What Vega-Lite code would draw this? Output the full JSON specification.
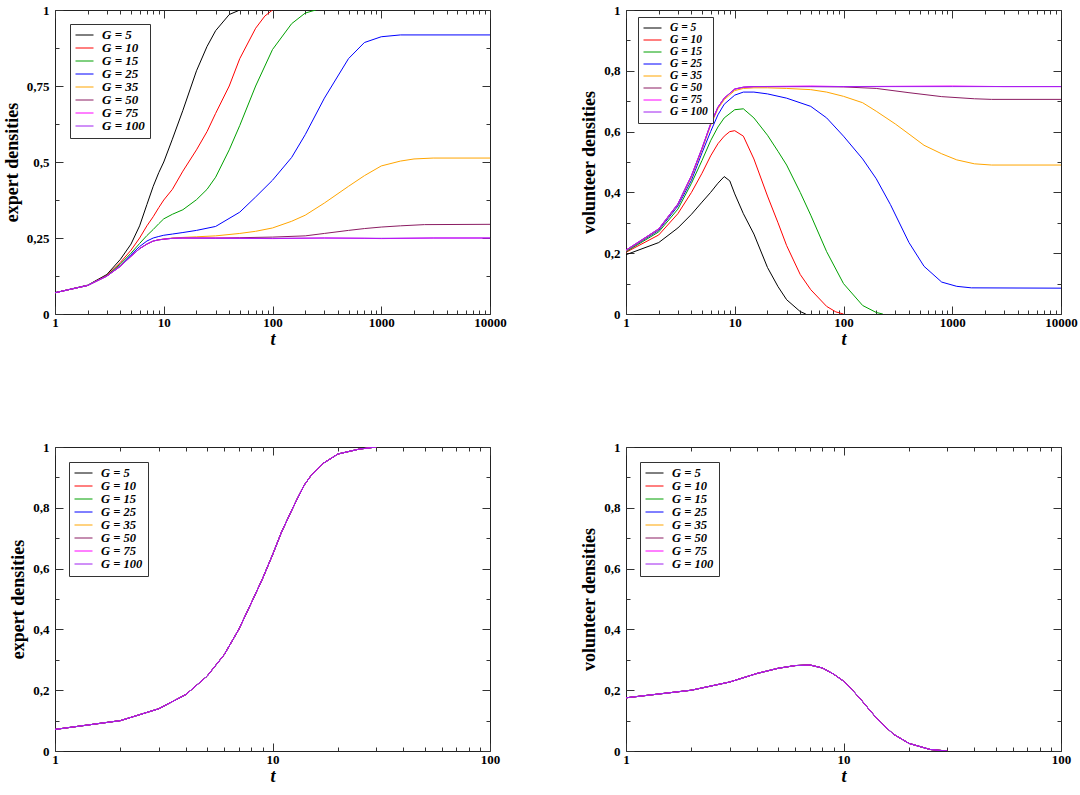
{
  "$schema": "https://vega.github.io/schema/vega-lite/v6.json",
  "background": "white",
  "padding": {"left": 2, "top": 3, "right": 5, "bottom": 5},
  "config": {
    "view": {"stroke": "#222", "strokeWidth": 1},
    "font": "Liberation Serif",
    "axis": {
      "grid": false, "domain": false,
      "labelFont": "Liberation Serif", "labelFontSize": 13, "labelFontWeight": "bold", "labelColor": "black",
      "tickColor": "#333", "tickWidth": 1,
      "titleFont": "Liberation Serif", "titleFontSize": 18, "titleFontWeight": "bold", "titleColor": "black",
      "labelFlush": false, "labelOverlap": false
    },
    "axisX": {"labelPadding": 10.5, "titlePadding": -3, "titleFontStyle": "italic"},
    "axisY": {"labelPadding": 14, "titlePadding": 5},
    "legend": {
      "orient": "none", "padding": 5,
      "strokeColor": "#333", "fillColor": "white",
      "labelFont": "Liberation Serif", "labelFontSize": 12.5, "labelFontStyle": "italic", "labelFontWeight": "bold", "labelColor": "black",
      "symbolType": "stroke", "symbolSize": 324, "labelOffset": 8, "rowPadding": 0, "clipHeight": 12
    }
  },
  "resolve": {"scale": {"color": "independent", "strokeWidth": "independent", "opacity": "independent"}},
  "datasets": {
    "tl": [
      {"G":"G = 5","t":1,"v":0.07},{"G":"G = 5","t":2,"v":0.095},{"G":"G = 5","t":3,"v":0.13},{"G":"G = 5","t":4,"v":0.18},{"G":"G = 5","t":5,"v":0.23},{"G":"G = 5","t":6,"v":0.29},{"G":"G = 5","t":7,"v":0.36},{"G":"G = 5","t":8,"v":0.42},{"G":"G = 5","t":9,"v":0.465},{"G":"G = 5","t":10,"v":0.5},{"G":"G = 5","t":12,"v":0.575},{"G":"G = 5","t":15,"v":0.67},{"G":"G = 5","t":20,"v":0.8},{"G":"G = 5","t":25,"v":0.88},{"G":"G = 5","t":30,"v":0.932},{"G":"G = 5","t":40,"v":0.985},{"G":"G = 5","t":50,"v":1},
      {"G":"G = 10","t":1,"v":0.07},{"G":"G = 10","t":2,"v":0.094},{"G":"G = 10","t":3,"v":0.127},{"G":"G = 10","t":4,"v":0.17},{"G":"G = 10","t":5,"v":0.21},{"G":"G = 10","t":6,"v":0.25},{"G":"G = 10","t":7,"v":0.29},{"G":"G = 10","t":8,"v":0.32},{"G":"G = 10","t":9,"v":0.35},{"G":"G = 10","t":10,"v":0.375},{"G":"G = 10","t":12,"v":0.41},{"G":"G = 10","t":15,"v":0.47},{"G":"G = 10","t":20,"v":0.54},{"G":"G = 10","t":25,"v":0.6},{"G":"G = 10","t":30,"v":0.66},{"G":"G = 10","t":40,"v":0.75},{"G":"G = 10","t":50,"v":0.84},{"G":"G = 10","t":70,"v":0.94},{"G":"G = 10","t":85,"v":0.98},{"G":"G = 10","t":100,"v":1},
      {"G":"G = 15","t":1,"v":0.07},{"G":"G = 15","t":2,"v":0.094},{"G":"G = 15","t":3,"v":0.126},{"G":"G = 15","t":4,"v":0.165},{"G":"G = 15","t":5,"v":0.2},{"G":"G = 15","t":6,"v":0.232},{"G":"G = 15","t":7,"v":0.258},{"G":"G = 15","t":8,"v":0.278},{"G":"G = 15","t":9,"v":0.297},{"G":"G = 15","t":10,"v":0.313},{"G":"G = 15","t":12,"v":0.328},{"G":"G = 15","t":15,"v":0.343},{"G":"G = 15","t":20,"v":0.376},{"G":"G = 15","t":25,"v":0.41},{"G":"G = 15","t":30,"v":0.45},{"G":"G = 15","t":40,"v":0.54},{"G":"G = 15","t":50,"v":0.62},{"G":"G = 15","t":70,"v":0.75},{"G":"G = 15","t":100,"v":0.87},{"G":"G = 15","t":150,"v":0.955},{"G":"G = 15","t":200,"v":0.99},{"G":"G = 15","t":250,"v":1},
      {"G":"G = 25","t":1,"v":0.07},{"G":"G = 25","t":2,"v":0.094},{"G":"G = 25","t":3,"v":0.125},{"G":"G = 25","t":4,"v":0.16},{"G":"G = 25","t":5,"v":0.195},{"G":"G = 25","t":6,"v":0.222},{"G":"G = 25","t":7,"v":0.24},{"G":"G = 25","t":8,"v":0.25},{"G":"G = 25","t":9,"v":0.255},{"G":"G = 25","t":10,"v":0.259},{"G":"G = 25","t":12,"v":0.263},{"G":"G = 25","t":15,"v":0.268},{"G":"G = 25","t":20,"v":0.275},{"G":"G = 25","t":30,"v":0.288},{"G":"G = 25","t":50,"v":0.335},{"G":"G = 25","t":70,"v":0.385},{"G":"G = 25","t":100,"v":0.44},{"G":"G = 25","t":150,"v":0.515},{"G":"G = 25","t":200,"v":0.59},{"G":"G = 25","t":300,"v":0.71},{"G":"G = 25","t":500,"v":0.84},{"G":"G = 25","t":700,"v":0.893},{"G":"G = 25","t":1000,"v":0.912},{"G":"G = 25","t":1500,"v":0.918},{"G":"G = 25","t":10000,"v":0.918},
      {"G":"G = 35","t":1,"v":0.07},{"G":"G = 35","t":2,"v":0.094},{"G":"G = 35","t":3,"v":0.125},{"G":"G = 35","t":4,"v":0.158},{"G":"G = 35","t":5,"v":0.19},{"G":"G = 35","t":6,"v":0.215},{"G":"G = 35","t":7,"v":0.23},{"G":"G = 35","t":8,"v":0.24},{"G":"G = 35","t":9,"v":0.244},{"G":"G = 35","t":10,"v":0.247},{"G":"G = 35","t":12,"v":0.25},{"G":"G = 35","t":15,"v":0.252},{"G":"G = 35","t":20,"v":0.254},{"G":"G = 35","t":30,"v":0.257},{"G":"G = 35","t":50,"v":0.265},{"G":"G = 35","t":70,"v":0.272},{"G":"G = 35","t":100,"v":0.283},{"G":"G = 35","t":150,"v":0.305},{"G":"G = 35","t":200,"v":0.325},{"G":"G = 35","t":300,"v":0.365},{"G":"G = 35","t":500,"v":0.42},{"G":"G = 35","t":700,"v":0.455},{"G":"G = 35","t":1000,"v":0.487},{"G":"G = 35","t":1500,"v":0.503},{"G":"G = 35","t":2000,"v":0.51},{"G":"G = 35","t":3000,"v":0.513},{"G":"G = 35","t":10000,"v":0.513},
      {"G":"G = 50","t":1,"v":0.07},{"G":"G = 50","t":2,"v":0.094},{"G":"G = 50","t":3,"v":0.125},{"G":"G = 50","t":4,"v":0.157},{"G":"G = 50","t":5,"v":0.19},{"G":"G = 50","t":6,"v":0.215},{"G":"G = 50","t":7,"v":0.23},{"G":"G = 50","t":8,"v":0.24},{"G":"G = 50","t":9,"v":0.244},{"G":"G = 50","t":10,"v":0.246},{"G":"G = 50","t":12,"v":0.249},{"G":"G = 50","t":15,"v":0.25},{"G":"G = 50","t":30,"v":0.25},{"G":"G = 50","t":50,"v":0.251},{"G":"G = 50","t":100,"v":0.253},{"G":"G = 50","t":200,"v":0.257},{"G":"G = 50","t":300,"v":0.265},{"G":"G = 50","t":500,"v":0.275},{"G":"G = 50","t":700,"v":0.281},{"G":"G = 50","t":1000,"v":0.286},{"G":"G = 50","t":1500,"v":0.29},{"G":"G = 50","t":2500,"v":0.294},{"G":"G = 50","t":10000,"v":0.295},
      {"G":"G = 75","t":1,"v":0.07},{"G":"G = 75","t":2,"v":0.094},{"G":"G = 75","t":3,"v":0.125},{"G":"G = 75","t":4,"v":0.157},{"G":"G = 75","t":5,"v":0.19},{"G":"G = 75","t":6,"v":0.215},{"G":"G = 75","t":7,"v":0.23},{"G":"G = 75","t":8,"v":0.24},{"G":"G = 75","t":9,"v":0.244},{"G":"G = 75","t":10,"v":0.246},{"G":"G = 75","t":12,"v":0.249},{"G":"G = 75","t":15,"v":0.25},{"G":"G = 75","t":30,"v":0.25},{"G":"G = 75","t":50,"v":0.249},{"G":"G = 75","t":100,"v":0.248},{"G":"G = 75","t":300,"v":0.25},{"G":"G = 75","t":700,"v":0.249},{"G":"G = 75","t":1000,"v":0.248},{"G":"G = 75","t":3000,"v":0.25},{"G":"G = 75","t":10000,"v":0.25},
      {"G":"G = 100","t":1,"v":0.07},{"G":"G = 100","t":2,"v":0.094},{"G":"G = 100","t":3,"v":0.125},{"G":"G = 100","t":4,"v":0.157},{"G":"G = 100","t":5,"v":0.19},{"G":"G = 100","t":6,"v":0.215},{"G":"G = 100","t":7,"v":0.23},{"G":"G = 100","t":8,"v":0.24},{"G":"G = 100","t":9,"v":0.244},{"G":"G = 100","t":10,"v":0.246},{"G":"G = 100","t":12,"v":0.249},{"G":"G = 100","t":15,"v":0.25},{"G":"G = 100","t":30,"v":0.249},{"G":"G = 100","t":100,"v":0.249},{"G":"G = 100","t":300,"v":0.25},{"G":"G = 100","t":1000,"v":0.249},{"G":"G = 100","t":3000,"v":0.25},{"G":"G = 100","t":10000,"v":0.25}
    ],
    "tr": [
      {"G":"G = 5","t":1,"v":0.195},{"G":"G = 5","t":2,"v":0.235},{"G":"G = 5","t":3,"v":0.283},{"G":"G = 5","t":4,"v":0.328},{"G":"G = 5","t":5,"v":0.368},{"G":"G = 5","t":6,"v":0.4},{"G":"G = 5","t":7,"v":0.43},{"G":"G = 5","t":8,"v":0.452},{"G":"G = 5","t":9,"v":0.438},{"G":"G = 5","t":10,"v":0.395},{"G":"G = 5","t":12,"v":0.33},{"G":"G = 5","t":15,"v":0.263},{"G":"G = 5","t":20,"v":0.153},{"G":"G = 5","t":25,"v":0.09},{"G":"G = 5","t":30,"v":0.047},{"G":"G = 5","t":40,"v":0.008},{"G":"G = 5","t":45,"v":0},
      {"G":"G = 10","t":1,"v":0.203},{"G":"G = 10","t":2,"v":0.26},{"G":"G = 10","t":3,"v":0.33},{"G":"G = 10","t":4,"v":0.4},{"G":"G = 10","t":5,"v":0.463},{"G":"G = 10","t":6,"v":0.52},{"G":"G = 10","t":7,"v":0.56},{"G":"G = 10","t":8,"v":0.585},{"G":"G = 10","t":9,"v":0.6},{"G":"G = 10","t":10,"v":0.603},{"G":"G = 10","t":12,"v":0.585},{"G":"G = 10","t":15,"v":0.51},{"G":"G = 10","t":20,"v":0.388},{"G":"G = 10","t":25,"v":0.3},{"G":"G = 10","t":30,"v":0.225},{"G":"G = 10","t":40,"v":0.13},{"G":"G = 10","t":50,"v":0.08},{"G":"G = 10","t":70,"v":0.025},{"G":"G = 10","t":85,"v":0.007},{"G":"G = 10","t":100,"v":0},
      {"G":"G = 15","t":1,"v":0.205},{"G":"G = 15","t":2,"v":0.27},{"G":"G = 15","t":3,"v":0.345},{"G":"G = 15","t":4,"v":0.43},{"G":"G = 15","t":5,"v":0.505},{"G":"G = 15","t":6,"v":0.57},{"G":"G = 15","t":7,"v":0.615},{"G":"G = 15","t":8,"v":0.645},{"G":"G = 15","t":10,"v":0.672},{"G":"G = 15","t":12,"v":0.675},{"G":"G = 15","t":15,"v":0.645},{"G":"G = 15","t":20,"v":0.588},{"G":"G = 15","t":25,"v":0.535},{"G":"G = 15","t":30,"v":0.49},{"G":"G = 15","t":40,"v":0.4},{"G":"G = 15","t":50,"v":0.325},{"G":"G = 15","t":70,"v":0.205},{"G":"G = 15","t":100,"v":0.1},{"G":"G = 15","t":150,"v":0.028},{"G":"G = 15","t":200,"v":0.005},{"G":"G = 15","t":230,"v":0},
      {"G":"G = 25","t":1,"v":0.207},{"G":"G = 25","t":2,"v":0.275},{"G":"G = 25","t":3,"v":0.355},{"G":"G = 25","t":4,"v":0.44},{"G":"G = 25","t":5,"v":0.53},{"G":"G = 25","t":6,"v":0.6},{"G":"G = 25","t":7,"v":0.655},{"G":"G = 25","t":8,"v":0.69},{"G":"G = 25","t":10,"v":0.72},{"G":"G = 25","t":12,"v":0.73},{"G":"G = 25","t":15,"v":0.73},{"G":"G = 25","t":20,"v":0.724},{"G":"G = 25","t":30,"v":0.71},{"G":"G = 25","t":50,"v":0.683},{"G":"G = 25","t":70,"v":0.645},{"G":"G = 25","t":100,"v":0.585},{"G":"G = 25","t":150,"v":0.51},{"G":"G = 25","t":200,"v":0.445},{"G":"G = 25","t":270,"v":0.36},{"G":"G = 25","t":400,"v":0.235},{"G":"G = 25","t":550,"v":0.157},{"G":"G = 25","t":800,"v":0.105},{"G":"G = 25","t":1100,"v":0.091},{"G":"G = 25","t":1500,"v":0.086},{"G":"G = 25","t":10000,"v":0.085},
      {"G":"G = 35","t":1,"v":0.208},{"G":"G = 35","t":2,"v":0.278},{"G":"G = 35","t":3,"v":0.36},{"G":"G = 35","t":4,"v":0.45},{"G":"G = 35","t":5,"v":0.54},{"G":"G = 35","t":6,"v":0.62},{"G":"G = 35","t":7,"v":0.675},{"G":"G = 35","t":8,"v":0.705},{"G":"G = 35","t":10,"v":0.735},{"G":"G = 35","t":12,"v":0.742},{"G":"G = 35","t":15,"v":0.744},{"G":"G = 35","t":20,"v":0.744},{"G":"G = 35","t":30,"v":0.742},{"G":"G = 35","t":50,"v":0.738},{"G":"G = 35","t":70,"v":0.73},{"G":"G = 35","t":100,"v":0.716},{"G":"G = 35","t":150,"v":0.695},{"G":"G = 35","t":200,"v":0.667},{"G":"G = 35","t":300,"v":0.625},{"G":"G = 35","t":400,"v":0.592},{"G":"G = 35","t":550,"v":0.555},{"G":"G = 35","t":800,"v":0.527},{"G":"G = 35","t":1100,"v":0.507},{"G":"G = 35","t":1600,"v":0.494},{"G":"G = 35","t":2300,"v":0.49},{"G":"G = 35","t":10000,"v":0.49},
      {"G":"G = 50","t":1,"v":0.21},{"G":"G = 50","t":2,"v":0.28},{"G":"G = 50","t":3,"v":0.362},{"G":"G = 50","t":4,"v":0.455},{"G":"G = 50","t":5,"v":0.545},{"G":"G = 50","t":6,"v":0.625},{"G":"G = 50","t":7,"v":0.68},{"G":"G = 50","t":8,"v":0.71},{"G":"G = 50","t":10,"v":0.74},{"G":"G = 50","t":12,"v":0.746},{"G":"G = 50","t":15,"v":0.748},{"G":"G = 50","t":30,"v":0.748},{"G":"G = 50","t":50,"v":0.748},{"G":"G = 50","t":100,"v":0.747},{"G":"G = 50","t":200,"v":0.742},{"G":"G = 50","t":400,"v":0.728},{"G":"G = 50","t":800,"v":0.715},{"G":"G = 50","t":1600,"v":0.708},{"G":"G = 50","t":2300,"v":0.706},{"G":"G = 50","t":10000,"v":0.706},
      {"G":"G = 75","t":1,"v":0.21},{"G":"G = 75","t":2,"v":0.28},{"G":"G = 75","t":3,"v":0.362},{"G":"G = 75","t":4,"v":0.455},{"G":"G = 75","t":5,"v":0.545},{"G":"G = 75","t":6,"v":0.625},{"G":"G = 75","t":7,"v":0.68},{"G":"G = 75","t":8,"v":0.71},{"G":"G = 75","t":10,"v":0.74},{"G":"G = 75","t":12,"v":0.746},{"G":"G = 75","t":15,"v":0.748},{"G":"G = 75","t":50,"v":0.75},{"G":"G = 75","t":100,"v":0.748},{"G":"G = 75","t":300,"v":0.749},{"G":"G = 75","t":1000,"v":0.75},{"G":"G = 75","t":3000,"v":0.748},{"G":"G = 75","t":10000,"v":0.748},
      {"G":"G = 100","t":1,"v":0.21},{"G":"G = 100","t":2,"v":0.28},{"G":"G = 100","t":3,"v":0.362},{"G":"G = 100","t":4,"v":0.455},{"G":"G = 100","t":5,"v":0.545},{"G":"G = 100","t":6,"v":0.625},{"G":"G = 100","t":7,"v":0.68},{"G":"G = 100","t":8,"v":0.71},{"G":"G = 100","t":10,"v":0.74},{"G":"G = 100","t":12,"v":0.746},{"G":"G = 100","t":15,"v":0.748},{"G":"G = 100","t":100,"v":0.748},{"G":"G = 100","t":1000,"v":0.748},{"G":"G = 100","t":10000,"v":0.748}
    ],
    "bl": [
      {"G":"G = 5","t":1,"v":0.071},{"G":"G = 5","t":2,"v":0.1},{"G":"G = 5","t":3,"v":0.139},{"G":"G = 5","t":4,"v":0.186},{"G":"G = 5","t":5,"v":0.246},{"G":"G = 5","t":6,"v":0.317},{"G":"G = 5","t":7,"v":0.4},{"G":"G = 5","t":8,"v":0.488},{"G":"G = 5","t":9,"v":0.567},{"G":"G = 5","t":10,"v":0.645},{"G":"G = 5","t":11,"v":0.72},{"G":"G = 5","t":12,"v":0.778},{"G":"G = 5","t":13,"v":0.83},{"G":"G = 5","t":14,"v":0.875},{"G":"G = 5","t":15,"v":0.905},{"G":"G = 5","t":17,"v":0.945},{"G":"G = 5","t":20,"v":0.977},{"G":"G = 5","t":25,"v":0.993},{"G":"G = 5","t":30,"v":1},
      {"G":"G = 10","t":1,"v":0.071},{"G":"G = 10","t":2,"v":0.1},{"G":"G = 10","t":3,"v":0.139},{"G":"G = 10","t":4,"v":0.186},{"G":"G = 10","t":5,"v":0.246},{"G":"G = 10","t":6,"v":0.317},{"G":"G = 10","t":7,"v":0.4},{"G":"G = 10","t":8,"v":0.488},{"G":"G = 10","t":9,"v":0.567},{"G":"G = 10","t":10,"v":0.645},{"G":"G = 10","t":11,"v":0.72},{"G":"G = 10","t":12,"v":0.778},{"G":"G = 10","t":13,"v":0.83},{"G":"G = 10","t":14,"v":0.875},{"G":"G = 10","t":15,"v":0.905},{"G":"G = 10","t":17,"v":0.945},{"G":"G = 10","t":20,"v":0.977},{"G":"G = 10","t":25,"v":0.993},{"G":"G = 10","t":30,"v":1},
      {"G":"G = 15","t":1,"v":0.071},{"G":"G = 15","t":2,"v":0.1},{"G":"G = 15","t":3,"v":0.139},{"G":"G = 15","t":4,"v":0.186},{"G":"G = 15","t":5,"v":0.246},{"G":"G = 15","t":6,"v":0.317},{"G":"G = 15","t":7,"v":0.4},{"G":"G = 15","t":8,"v":0.488},{"G":"G = 15","t":9,"v":0.567},{"G":"G = 15","t":10,"v":0.645},{"G":"G = 15","t":11,"v":0.72},{"G":"G = 15","t":12,"v":0.778},{"G":"G = 15","t":13,"v":0.83},{"G":"G = 15","t":14,"v":0.875},{"G":"G = 15","t":15,"v":0.905},{"G":"G = 15","t":17,"v":0.945},{"G":"G = 15","t":20,"v":0.977},{"G":"G = 15","t":25,"v":0.993},{"G":"G = 15","t":30,"v":1},
      {"G":"G = 25","t":1,"v":0.071},{"G":"G = 25","t":2,"v":0.1},{"G":"G = 25","t":3,"v":0.139},{"G":"G = 25","t":4,"v":0.186},{"G":"G = 25","t":5,"v":0.246},{"G":"G = 25","t":6,"v":0.317},{"G":"G = 25","t":7,"v":0.4},{"G":"G = 25","t":8,"v":0.488},{"G":"G = 25","t":9,"v":0.567},{"G":"G = 25","t":10,"v":0.645},{"G":"G = 25","t":11,"v":0.72},{"G":"G = 25","t":12,"v":0.778},{"G":"G = 25","t":13,"v":0.83},{"G":"G = 25","t":14,"v":0.875},{"G":"G = 25","t":15,"v":0.905},{"G":"G = 25","t":17,"v":0.945},{"G":"G = 25","t":20,"v":0.977},{"G":"G = 25","t":25,"v":0.993},{"G":"G = 25","t":30,"v":1},
      {"G":"G = 35","t":1,"v":0.071},{"G":"G = 35","t":2,"v":0.1},{"G":"G = 35","t":3,"v":0.139},{"G":"G = 35","t":4,"v":0.186},{"G":"G = 35","t":5,"v":0.246},{"G":"G = 35","t":6,"v":0.317},{"G":"G = 35","t":7,"v":0.4},{"G":"G = 35","t":8,"v":0.488},{"G":"G = 35","t":9,"v":0.567},{"G":"G = 35","t":10,"v":0.645},{"G":"G = 35","t":11,"v":0.72},{"G":"G = 35","t":12,"v":0.778},{"G":"G = 35","t":13,"v":0.83},{"G":"G = 35","t":14,"v":0.875},{"G":"G = 35","t":15,"v":0.905},{"G":"G = 35","t":17,"v":0.945},{"G":"G = 35","t":20,"v":0.977},{"G":"G = 35","t":25,"v":0.993},{"G":"G = 35","t":30,"v":1},
      {"G":"G = 50","t":1,"v":0.071},{"G":"G = 50","t":2,"v":0.1},{"G":"G = 50","t":3,"v":0.139},{"G":"G = 50","t":4,"v":0.186},{"G":"G = 50","t":5,"v":0.246},{"G":"G = 50","t":6,"v":0.317},{"G":"G = 50","t":7,"v":0.4},{"G":"G = 50","t":8,"v":0.488},{"G":"G = 50","t":9,"v":0.567},{"G":"G = 50","t":10,"v":0.645},{"G":"G = 50","t":11,"v":0.72},{"G":"G = 50","t":12,"v":0.778},{"G":"G = 50","t":13,"v":0.83},{"G":"G = 50","t":14,"v":0.875},{"G":"G = 50","t":15,"v":0.905},{"G":"G = 50","t":17,"v":0.945},{"G":"G = 50","t":20,"v":0.977},{"G":"G = 50","t":25,"v":0.993},{"G":"G = 50","t":30,"v":1},
      {"G":"G = 75","t":1,"v":0.071},{"G":"G = 75","t":2,"v":0.1},{"G":"G = 75","t":3,"v":0.139},{"G":"G = 75","t":4,"v":0.186},{"G":"G = 75","t":5,"v":0.246},{"G":"G = 75","t":6,"v":0.317},{"G":"G = 75","t":7,"v":0.4},{"G":"G = 75","t":8,"v":0.488},{"G":"G = 75","t":9,"v":0.567},{"G":"G = 75","t":10,"v":0.645},{"G":"G = 75","t":11,"v":0.72},{"G":"G = 75","t":12,"v":0.778},{"G":"G = 75","t":13,"v":0.83},{"G":"G = 75","t":14,"v":0.875},{"G":"G = 75","t":15,"v":0.905},{"G":"G = 75","t":17,"v":0.945},{"G":"G = 75","t":20,"v":0.977},{"G":"G = 75","t":25,"v":0.993},{"G":"G = 75","t":30,"v":1},
      {"G":"G = 100","t":1,"v":0.071},{"G":"G = 100","t":2,"v":0.1},{"G":"G = 100","t":3,"v":0.139},{"G":"G = 100","t":4,"v":0.186},{"G":"G = 100","t":5,"v":0.246},{"G":"G = 100","t":6,"v":0.317},{"G":"G = 100","t":7,"v":0.4},{"G":"G = 100","t":8,"v":0.488},{"G":"G = 100","t":9,"v":0.567},{"G":"G = 100","t":10,"v":0.645},{"G":"G = 100","t":11,"v":0.72},{"G":"G = 100","t":12,"v":0.778},{"G":"G = 100","t":13,"v":0.83},{"G":"G = 100","t":14,"v":0.875},{"G":"G = 100","t":15,"v":0.905},{"G":"G = 100","t":17,"v":0.945},{"G":"G = 100","t":20,"v":0.977},{"G":"G = 100","t":25,"v":0.993},{"G":"G = 100","t":30,"v":1}
    ],
    "br": [
      {"G":"G = 5","t":1,"v":0.175},{"G":"G = 5","t":2,"v":0.2},{"G":"G = 5","t":3,"v":0.227},{"G":"G = 5","t":4,"v":0.255},{"G":"G = 5","t":5,"v":0.272},{"G":"G = 5","t":6,"v":0.281},{"G":"G = 5","t":7,"v":0.283},{"G":"G = 5","t":8,"v":0.273},{"G":"G = 5","t":9,"v":0.253},{"G":"G = 5","t":10,"v":0.23},{"G":"G = 5","t":11,"v":0.2},{"G":"G = 5","t":12,"v":0.17},{"G":"G = 5","t":13,"v":0.14},{"G":"G = 5","t":14,"v":0.113},{"G":"G = 5","t":15,"v":0.09},{"G":"G = 5","t":17,"v":0.055},{"G":"G = 5","t":20,"v":0.025},{"G":"G = 5","t":25,"v":0.005},{"G":"G = 5","t":30,"v":0},
      {"G":"G = 10","t":1,"v":0.175},{"G":"G = 10","t":2,"v":0.2},{"G":"G = 10","t":3,"v":0.227},{"G":"G = 10","t":4,"v":0.255},{"G":"G = 10","t":5,"v":0.272},{"G":"G = 10","t":6,"v":0.281},{"G":"G = 10","t":7,"v":0.283},{"G":"G = 10","t":8,"v":0.273},{"G":"G = 10","t":9,"v":0.253},{"G":"G = 10","t":10,"v":0.23},{"G":"G = 10","t":11,"v":0.2},{"G":"G = 10","t":12,"v":0.17},{"G":"G = 10","t":13,"v":0.14},{"G":"G = 10","t":14,"v":0.113},{"G":"G = 10","t":15,"v":0.09},{"G":"G = 10","t":17,"v":0.055},{"G":"G = 10","t":20,"v":0.025},{"G":"G = 10","t":25,"v":0.005},{"G":"G = 10","t":30,"v":0},
      {"G":"G = 15","t":1,"v":0.175},{"G":"G = 15","t":2,"v":0.2},{"G":"G = 15","t":3,"v":0.227},{"G":"G = 15","t":4,"v":0.255},{"G":"G = 15","t":5,"v":0.272},{"G":"G = 15","t":6,"v":0.281},{"G":"G = 15","t":7,"v":0.283},{"G":"G = 15","t":8,"v":0.273},{"G":"G = 15","t":9,"v":0.253},{"G":"G = 15","t":10,"v":0.23},{"G":"G = 15","t":11,"v":0.2},{"G":"G = 15","t":12,"v":0.17},{"G":"G = 15","t":13,"v":0.14},{"G":"G = 15","t":14,"v":0.113},{"G":"G = 15","t":15,"v":0.09},{"G":"G = 15","t":17,"v":0.055},{"G":"G = 15","t":20,"v":0.025},{"G":"G = 15","t":25,"v":0.005},{"G":"G = 15","t":30,"v":0},
      {"G":"G = 25","t":1,"v":0.175},{"G":"G = 25","t":2,"v":0.2},{"G":"G = 25","t":3,"v":0.227},{"G":"G = 25","t":4,"v":0.255},{"G":"G = 25","t":5,"v":0.272},{"G":"G = 25","t":6,"v":0.281},{"G":"G = 25","t":7,"v":0.283},{"G":"G = 25","t":8,"v":0.273},{"G":"G = 25","t":9,"v":0.253},{"G":"G = 25","t":10,"v":0.23},{"G":"G = 25","t":11,"v":0.2},{"G":"G = 25","t":12,"v":0.17},{"G":"G = 25","t":13,"v":0.14},{"G":"G = 25","t":14,"v":0.113},{"G":"G = 25","t":15,"v":0.09},{"G":"G = 25","t":17,"v":0.055},{"G":"G = 25","t":20,"v":0.025},{"G":"G = 25","t":25,"v":0.005},{"G":"G = 25","t":30,"v":0},
      {"G":"G = 35","t":1,"v":0.175},{"G":"G = 35","t":2,"v":0.2},{"G":"G = 35","t":3,"v":0.227},{"G":"G = 35","t":4,"v":0.255},{"G":"G = 35","t":5,"v":0.272},{"G":"G = 35","t":6,"v":0.281},{"G":"G = 35","t":7,"v":0.283},{"G":"G = 35","t":8,"v":0.273},{"G":"G = 35","t":9,"v":0.253},{"G":"G = 35","t":10,"v":0.23},{"G":"G = 35","t":11,"v":0.2},{"G":"G = 35","t":12,"v":0.17},{"G":"G = 35","t":13,"v":0.14},{"G":"G = 35","t":14,"v":0.113},{"G":"G = 35","t":15,"v":0.09},{"G":"G = 35","t":17,"v":0.055},{"G":"G = 35","t":20,"v":0.025},{"G":"G = 35","t":25,"v":0.005},{"G":"G = 35","t":30,"v":0},
      {"G":"G = 50","t":1,"v":0.175},{"G":"G = 50","t":2,"v":0.2},{"G":"G = 50","t":3,"v":0.227},{"G":"G = 50","t":4,"v":0.255},{"G":"G = 50","t":5,"v":0.272},{"G":"G = 50","t":6,"v":0.281},{"G":"G = 50","t":7,"v":0.283},{"G":"G = 50","t":8,"v":0.273},{"G":"G = 50","t":9,"v":0.253},{"G":"G = 50","t":10,"v":0.23},{"G":"G = 50","t":11,"v":0.2},{"G":"G = 50","t":12,"v":0.17},{"G":"G = 50","t":13,"v":0.14},{"G":"G = 50","t":14,"v":0.113},{"G":"G = 50","t":15,"v":0.09},{"G":"G = 50","t":17,"v":0.055},{"G":"G = 50","t":20,"v":0.025},{"G":"G = 50","t":25,"v":0.005},{"G":"G = 50","t":30,"v":0},
      {"G":"G = 75","t":1,"v":0.175},{"G":"G = 75","t":2,"v":0.2},{"G":"G = 75","t":3,"v":0.227},{"G":"G = 75","t":4,"v":0.255},{"G":"G = 75","t":5,"v":0.272},{"G":"G = 75","t":6,"v":0.281},{"G":"G = 75","t":7,"v":0.283},{"G":"G = 75","t":8,"v":0.273},{"G":"G = 75","t":9,"v":0.253},{"G":"G = 75","t":10,"v":0.23},{"G":"G = 75","t":11,"v":0.2},{"G":"G = 75","t":12,"v":0.17},{"G":"G = 75","t":13,"v":0.14},{"G":"G = 75","t":14,"v":0.113},{"G":"G = 75","t":15,"v":0.09},{"G":"G = 75","t":17,"v":0.055},{"G":"G = 75","t":20,"v":0.025},{"G":"G = 75","t":25,"v":0.005},{"G":"G = 75","t":30,"v":0},
      {"G":"G = 100","t":1,"v":0.175},{"G":"G = 100","t":2,"v":0.2},{"G":"G = 100","t":3,"v":0.227},{"G":"G = 100","t":4,"v":0.255},{"G":"G = 100","t":5,"v":0.272},{"G":"G = 100","t":6,"v":0.281},{"G":"G = 100","t":7,"v":0.283},{"G":"G = 100","t":8,"v":0.273},{"G":"G = 100","t":9,"v":0.253},{"G":"G = 100","t":10,"v":0.23},{"G":"G = 100","t":11,"v":0.2},{"G":"G = 100","t":12,"v":0.17},{"G":"G = 100","t":13,"v":0.14},{"G":"G = 100","t":14,"v":0.113},{"G":"G = 100","t":15,"v":0.09},{"G":"G = 100","t":17,"v":0.055},{"G":"G = 100","t":20,"v":0.025},{"G":"G = 100","t":25,"v":0.005},{"G":"G = 100","t":30,"v":0}
    ]
  },
  "columns": 2,
  "spacing": {"row": 91, "column": 73},
  "concat": [
    {
      "width": 435, "height": 304,
      "data": {"name": "tl"},
      "resolve": {"axis": {"x": "independent", "y": "independent"}},
      "layer": [
        {
          "mark": {"type": "line", "clip": true},
          "encoding": {
            "x": {"field": "t", "type": "quantitative", "scale": {"type": "log", "domain": [1, 10000]},
              "axis": {"orient": "bottom", "title": "t",
                "values": [1,2,3,4,5,6,7,8,9,10,20,30,40,50,60,70,80,90,100,200,300,400,500,600,700,800,900,1000,2000,3000,4000,5000,6000,7000,8000,9000,10000],
                "tickSize": {"condition": {"test": "indexof([1,10,100,1000,10000], datum.value) >= 0", "value": -8}, "value": -4},
                "labelExpr": "indexof([1,10,100,1000,10000], datum.value) >= 0 ? toString(datum.value) : ''"}},
            "y": {"field": "v", "type": "quantitative", "scale": {"domain": [0, 1]},
              "axis": {"orient": "left", "title": "expert densities",
                "values": [0,0.125,0.25,0.375,0.5,0.625,0.75,0.875,1],
                "tickSize": {"condition": {"test": "round(datum.value*8) % 2 == 0", "value": -8}, "value": -4},
                "labelExpr": "round(datum.value*8) % 2 == 0 ? replace(format(datum.value, '.2~f'), '.', ',') : ''"}},
            "color": {"field": "G", "type": "nominal",
              "legend": {"title": null, "legendX": 15, "legendY": 14, "labelFontSize": 13,
                "encode": {"symbols": {"update": {
                  "strokeWidth": {"signal": "indexof(['G = 75','G = 100'], datum.value) >= 0 ? 3 : (datum.value == 'G = 50' ? 1.5 : 1)"},
                  "opacity": {"signal": "indexof(['G = 75','G = 100'], datum.value) >= 0 ? 0.5 : (datum.value == 'G = 50' ? 0.7 : 1)"}}}}},
              "scale": {"domain": ["G = 5","G = 10","G = 15","G = 25","G = 35","G = 50","G = 75","G = 100"], "range": ["#000000","#ff0000","#00a000","#0000ff","#ffa500","#8b1c62","#ff00ff","#a020f0"]}},
            "strokeWidth": {"field": "G", "type": "ordinal", "legend": null,
              "scale": {"domain": ["G = 5","G = 10","G = 15","G = 25","G = 35","G = 50","G = 75","G = 100"], "range": [1,1,1,1,1,1.5,3,3]}},
            "opacity": {"field": "G", "type": "ordinal", "legend": null,
              "scale": {"domain": ["G = 5","G = 10","G = 15","G = 25","G = 35","G = 50","G = 75","G = 100"], "range": [1,1,1,1,1,0.8,0.55,0.55]}}
          }
        },
        {
          "mark": {"type": "line", "opacity": 0},
          "encoding": {
            "x": {"field": "t", "type": "quantitative", "scale": {"type": "log", "domain": [1, 10000]},
              "axis": {"orient": "top", "title": null, "labels": false,
                "values": [1,2,3,4,5,6,7,8,9,10,20,30,40,50,60,70,80,90,100,200,300,400,500,600,700,800,900,1000,2000,3000,4000,5000,6000,7000,8000,9000,10000],
                "tickSize": {"condition": {"test": "indexof([1,10,100,1000,10000], datum.value) >= 0", "value": -8}, "value": -4}}},
            "y": {"field": "v", "type": "quantitative", "scale": {"domain": [0, 1]},
              "axis": {"orient": "right", "title": null, "labels": false,
                "values": [0,0.125,0.25,0.375,0.5,0.625,0.75,0.875,1],
                "tickSize": {"condition": {"test": "round(datum.value*8) % 2 == 0", "value": -8}, "value": -4}}}
          }
        }
      ]
    },
    {
      "width": 435, "height": 304,
      "data": {"name": "tr"},
      "resolve": {"axis": {"x": "independent", "y": "independent"}},
      "layer": [
        {
          "mark": {"type": "line", "clip": true},
          "encoding": {
            "x": {"field": "t", "type": "quantitative", "scale": {"type": "log", "domain": [1, 10000]},
              "axis": {"orient": "bottom", "title": "t",
                "values": [1,2,3,4,5,6,7,8,9,10,20,30,40,50,60,70,80,90,100,200,300,400,500,600,700,800,900,1000,2000,3000,4000,5000,6000,7000,8000,9000,10000],
                "tickSize": {"condition": {"test": "indexof([1,10,100,1000,10000], datum.value) >= 0", "value": -8}, "value": -4},
                "labelExpr": "indexof([1,10,100,1000,10000], datum.value) >= 0 ? toString(datum.value) : ''"}},
            "y": {"field": "v", "type": "quantitative", "scale": {"domain": [0, 1]},
              "axis": {"orient": "left", "title": "volunteer densities",
                "values": [0,0.1,0.2,0.3,0.4,0.5,0.6,0.7,0.8,0.9,1],
                "tickSize": {"condition": {"test": "round(datum.value*10) % 2 == 0", "value": -8}, "value": -4},
                "labelExpr": "round(datum.value*10) % 2 == 0 ? replace(format(datum.value, '.1~f'), '.', ',') : ''"}},
            "color": {"field": "G", "type": "nominal",
              "legend": {"title": null, "legendX": 12, "legendY": 7, "labelFontSize": 11.5, "clipHeight": 12,
                "encode": {"symbols": {"update": {
                  "strokeWidth": {"signal": "indexof(['G = 35','G = 75','G = 100'], datum.value) >= 0 ? 3 : (datum.value == 'G = 50' ? 1.5 : 1)"},
                  "opacity": {"signal": "indexof(['G = 35','G = 75','G = 100'], datum.value) >= 0 ? 0.5 : (datum.value == 'G = 50' ? 0.7 : 1)"}}}}},
              "scale": {"domain": ["G = 5","G = 10","G = 15","G = 25","G = 35","G = 50","G = 75","G = 100"], "range": ["#000000","#ff0000","#00a000","#0000ff","#ffa500","#8b1c62","#ff00ff","#a020f0"]}},
            "strokeWidth": {"field": "G", "type": "ordinal", "legend": null,
              "scale": {"domain": ["G = 5","G = 10","G = 15","G = 25","G = 35","G = 50","G = 75","G = 100"], "range": [1,1,1,1,1,1.5,3,3]}},
            "opacity": {"field": "G", "type": "ordinal", "legend": null,
              "scale": {"domain": ["G = 5","G = 10","G = 15","G = 25","G = 35","G = 50","G = 75","G = 100"], "range": [1,1,1,1,1,0.8,0.55,0.55]}}
          }
        },
        {
          "mark": {"type": "line", "opacity": 0},
          "encoding": {
            "x": {"field": "t", "type": "quantitative", "scale": {"type": "log", "domain": [1, 10000]},
              "axis": {"orient": "top", "title": null, "labels": false,
                "values": [1,2,3,4,5,6,7,8,9,10,20,30,40,50,60,70,80,90,100,200,300,400,500,600,700,800,900,1000,2000,3000,4000,5000,6000,7000,8000,9000,10000],
                "tickSize": {"condition": {"test": "indexof([1,10,100,1000,10000], datum.value) >= 0", "value": -8}, "value": -4}}},
            "y": {"field": "v", "type": "quantitative", "scale": {"domain": [0, 1]},
              "axis": {"orient": "right", "title": null, "labels": false,
                "values": [0,0.1,0.2,0.3,0.4,0.5,0.6,0.7,0.8,0.9,1],
                "tickSize": {"condition": {"test": "round(datum.value*10) % 2 == 0", "value": -8}, "value": -4}}}
          }
        }
      ]
    },
    {
      "width": 435, "height": 304,
      "data": {"name": "bl"},
      "resolve": {"axis": {"x": "independent", "y": "independent"}},
      "layer": [
        {
          "mark": {"type": "line", "clip": true},
          "encoding": {
            "x": {"field": "t", "type": "quantitative", "scale": {"type": "log", "domain": [1, 100]},
              "axis": {"orient": "bottom", "title": "t",
                "values": [1,2,3,4,5,6,7,8,9,10,20,30,40,50,60,70,80,90,100],
                "tickSize": {"condition": {"test": "indexof([1,10,100], datum.value) >= 0", "value": -8}, "value": -4},
                "labelExpr": "indexof([1,10,100], datum.value) >= 0 ? toString(datum.value) : ''"}},
            "y": {"field": "v", "type": "quantitative", "scale": {"domain": [0, 1]},
              "axis": {"orient": "left", "title": "expert densities",
                "values": [0,0.1,0.2,0.3,0.4,0.5,0.6,0.7,0.8,0.9,1],
                "tickSize": {"condition": {"test": "round(datum.value*10) % 2 == 0", "value": -8}, "value": -4},
                "labelExpr": "round(datum.value*10) % 2 == 0 ? replace(format(datum.value, '.1~f'), '.', ',') : ''"}},
            "color": {"field": "G", "type": "nominal",
              "legend": {"title": null, "legendX": 14, "legendY": 15,
                "encode": {"symbols": {"update": {
                  "strokeWidth": {"signal": "indexof(['G = 75','G = 100'], datum.value) >= 0 ? 3 : (datum.value == 'G = 50' ? 1.5 : 1)"},
                  "opacity": {"signal": "indexof(['G = 75','G = 100'], datum.value) >= 0 ? 0.5 : (datum.value == 'G = 50' ? 0.7 : 1)"}}}}},
              "scale": {"domain": ["G = 5","G = 10","G = 15","G = 25","G = 35","G = 50","G = 75","G = 100"], "range": ["#000000","#ff0000","#00a000","#0000ff","#ffa500","#8b1c62","#ff00ff","#a020f0"]}},
            "strokeWidth": {"field": "G", "type": "ordinal", "legend": null,
              "scale": {"domain": ["G = 5","G = 10","G = 15","G = 25","G = 35","G = 50","G = 75","G = 100"], "range": [1,1,1,1,1,1.5,3,3]}},
            "opacity": {"field": "G", "type": "ordinal", "legend": null,
              "scale": {"domain": ["G = 5","G = 10","G = 15","G = 25","G = 35","G = 50","G = 75","G = 100"], "range": [1,1,1,1,1,0.8,0.55,0.55]}}
          }
        },
        {
          "mark": {"type": "line", "opacity": 0},
          "encoding": {
            "x": {"field": "t", "type": "quantitative", "scale": {"type": "log", "domain": [1, 100]},
              "axis": {"orient": "top", "title": null, "labels": false,
                "values": [1,2,3,4,5,6,7,8,9,10,20,30,40,50,60,70,80,90,100],
                "tickSize": {"condition": {"test": "indexof([1,10,100], datum.value) >= 0", "value": -8}, "value": -4}}},
            "y": {"field": "v", "type": "quantitative", "scale": {"domain": [0, 1]},
              "axis": {"orient": "right", "title": null, "labels": false,
                "values": [0,0.1,0.2,0.3,0.4,0.5,0.6,0.7,0.8,0.9,1],
                "tickSize": {"condition": {"test": "round(datum.value*10) % 2 == 0", "value": -8}, "value": -4}}}
          }
        }
      ]
    },
    {
      "width": 435, "height": 304,
      "data": {"name": "br"},
      "resolve": {"axis": {"x": "independent", "y": "independent"}},
      "layer": [
        {
          "mark": {"type": "line", "clip": true},
          "encoding": {
            "x": {"field": "t", "type": "quantitative", "scale": {"type": "log", "domain": [1, 100]},
              "axis": {"orient": "bottom", "title": "t",
                "values": [1,2,3,4,5,6,7,8,9,10,20,30,40,50,60,70,80,90,100],
                "tickSize": {"condition": {"test": "indexof([1,10,100], datum.value) >= 0", "value": -8}, "value": -4},
                "labelExpr": "indexof([1,10,100], datum.value) >= 0 ? toString(datum.value) : ''"}},
            "y": {"field": "v", "type": "quantitative", "scale": {"domain": [0, 1]},
              "axis": {"orient": "left", "title": "volunteer densities",
                "values": [0,0.1,0.2,0.3,0.4,0.5,0.6,0.7,0.8,0.9,1],
                "tickSize": {"condition": {"test": "round(datum.value*10) % 2 == 0", "value": -8}, "value": -4},
                "labelExpr": "round(datum.value*10) % 2 == 0 ? replace(format(datum.value, '.1~f'), '.', ',') : ''"}},
            "color": {"field": "G", "type": "nominal",
              "legend": {"title": null, "legendX": 14, "legendY": 15,
                "encode": {"symbols": {"update": {
                  "strokeWidth": {"signal": "indexof(['G = 75','G = 100'], datum.value) >= 0 ? 3 : (datum.value == 'G = 50' ? 1.5 : 1)"},
                  "opacity": {"signal": "indexof(['G = 75','G = 100'], datum.value) >= 0 ? 0.5 : (datum.value == 'G = 50' ? 0.7 : 1)"}}}}},
              "scale": {"domain": ["G = 5","G = 10","G = 15","G = 25","G = 35","G = 50","G = 75","G = 100"], "range": ["#000000","#ff0000","#00a000","#0000ff","#ffa500","#8b1c62","#ff00ff","#a020f0"]}},
            "strokeWidth": {"field": "G", "type": "ordinal", "legend": null,
              "scale": {"domain": ["G = 5","G = 10","G = 15","G = 25","G = 35","G = 50","G = 75","G = 100"], "range": [1,1,1,1,1,1.5,3,3]}},
            "opacity": {"field": "G", "type": "ordinal", "legend": null,
              "scale": {"domain": ["G = 5","G = 10","G = 15","G = 25","G = 35","G = 50","G = 75","G = 100"], "range": [1,1,1,1,1,0.8,0.55,0.55]}}
          }
        },
        {
          "mark": {"type": "line", "opacity": 0},
          "encoding": {
            "x": {"field": "t", "type": "quantitative", "scale": {"type": "log", "domain": [1, 100]},
              "axis": {"orient": "top", "title": null, "labels": false,
                "values": [1,2,3,4,5,6,7,8,9,10,20,30,40,50,60,70,80,90,100],
                "tickSize": {"condition": {"test": "indexof([1,10,100], datum.value) >= 0", "value": -8}, "value": -4}}},
            "y": {"field": "v", "type": "quantitative", "scale": {"domain": [0, 1]},
              "axis": {"orient": "right", "title": null, "labels": false,
                "values": [0,0.1,0.2,0.3,0.4,0.5,0.6,0.7,0.8,0.9,1],
                "tickSize": {"condition": {"test": "round(datum.value*10) % 2 == 0", "value": -8}, "value": -4}}}
          }
        }
      ]
    }
  ]
}
